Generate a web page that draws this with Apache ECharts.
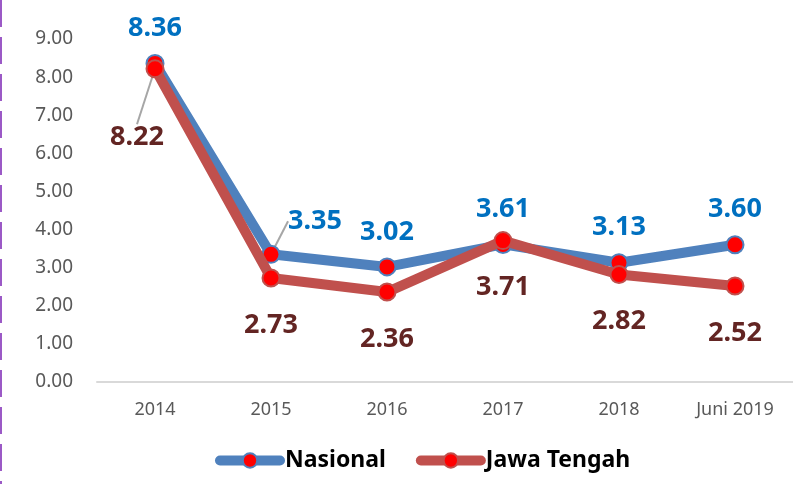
<!DOCTYPE html>
<html>
<head>
<meta charset="utf-8">
<script src="https://cdn.jsdelivr.net/npm/echarts@6/dist/echarts.min.js"></script>
<style>
  html, body { margin: 0; padding: 0; background: #fff; }
  #main { width: 793px; height: 484px; }
</style>
</head>
<body>
<div id="main"></div>
<script>
  // data
  const years = ['2014', '2015', '2016', '2017', '2018', 'Juni 2019']
  const nasional = [8.36, 3.35, 3.02, 3.61, 3.13, 3.60]
  const jawaTengah = [8.22, 2.73, 2.36, 3.71, 2.82, 2.52]

  const myChart = echarts.init(document.querySelector('#main'))

  const font = '"Noto Sans", sans-serif'

  // 只给被挪开的标签画引导线
  function withGuide(arr, idx) {
    return arr.map((v, i) => (i === idx ? { value: v, labelLine: { show: true } } : v))
  }

  const option = {
    animation: false,
    textStyle: { fontFamily: font },
    grid: { left: 97, right: 0, top: 39, bottom: 102 },
    // 左边的紫色虚线
    graphic: [
      {
        type: 'line',
        shape: { x1: 1, y1: 0, x2: 1, y2: 484 },
        style: { stroke: '#9b59c6', lineWidth: 2, lineDash: [27, 10] }
      }
    ],
    legend: {
      bottom: 7,
      left: 210,
      itemWidth: 60,
      itemHeight: 18,
      itemGap: 30,
      lineStyle: { width: 10, cap: 'round' },
      textStyle: { fontSize: 23, fontWeight: 'bold', color: '#000', fontFamily: font }
    },
    xAxis: {
      type: 'category',
      data: years,
      axisLine: { lineStyle: { color: '#d9d9d9', width: 2 } },
      axisTick: { show: false },
      axisLabel: { color: '#595959', fontSize: 18, margin: 19 }
    },
    yAxis: {
      type: 'value',
      min: 0,
      max: 9,
      interval: 1,
      axisLine: { show: false },
      axisTick: { show: false },
      splitLine: { show: false },
      axisLabel: {
        color: '#595959',
        fontSize: 19,
        margin: 24,
        formatter: v => v.toFixed(2)
      }
    },
    series: [
      {
        name: 'Nasional',
        type: 'line',
        data: withGuide(nasional, 1),
        symbol: 'circle',
        symbolSize: 17,
        lineStyle: { color: '#4f81bd', width: 10 },
        itemStyle: { color: '#ff0000', borderColor: '#4f81bd', borderWidth: 2 },
        label: {
          show: true,
          position: 'top',
          distance: 12,
          fontSize: 27,
          fontWeight: 'bold',
          color: '#0070c0',
          formatter: p => p.value.toFixed(2)
        },
        labelLine: { show: false, lineStyle: { color: '#a6a6a6', width: 2 } },
        labelLayout: p => (p.dataIndex === 1 ? { dx: 44, dy: 2 } : {}),
        z: 2
      },
      {
        name: 'Jawa Tengah',
        type: 'line',
        data: withGuide(jawaTengah, 0),
        symbol: 'circle',
        symbolSize: 17,
        lineStyle: { color: '#c0504d', width: 10 },
        itemStyle: { color: '#ff0000', borderColor: '#c0504d', borderWidth: 2 },
        label: {
          show: true,
          position: 'bottom',
          distance: 24,
          fontSize: 27,
          fontWeight: 'bold',
          color: '#632523',
          formatter: p => p.value.toFixed(2)
        },
        labelLine: { show: false, lineStyle: { color: '#a6a6a6', width: 2 } },
        labelLayout: p => (p.dataIndex === 0 ? { dx: -18, dy: 22 } : {}),
        z: 3
      }
    ]
  }

  myChart.setOption(option)
</script>
</body>
</html>
